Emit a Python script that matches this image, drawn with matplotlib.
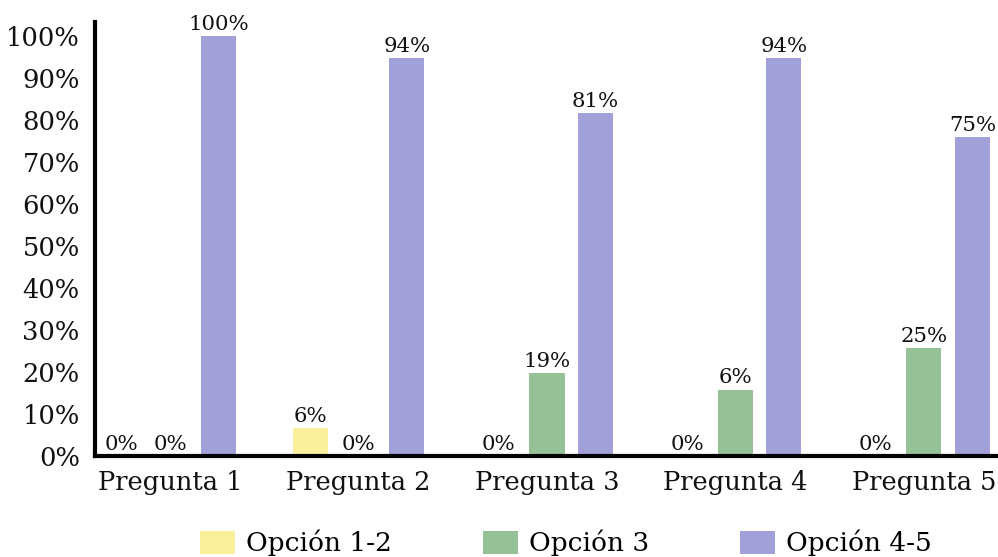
"""grouped bars: answer distribution per question"""

import matplotlib
matplotlib.use('Agg')
import matplotlib.pyplot as plt
import numpy as np

preguntas = ['Pregunta 1', 'Pregunta 2', 'Pregunta 3', 'Pregunta 4', 'Pregunta 5']
series = ['Opción 1-2', 'Opción 3', 'Opción 4-5']
# bar heights
opcion_12 = [0, 6.7, 0, 0, 0]
opcion_3 = [0, 0, 19.7, 15.8, 25.6]
opcion_45 = [100, 94.7, 81.6, 94.7, 75.9]
# labels as printed on the chart (P4 / Opción 3 says 6% although the bar is taller)
etiq_12 = ['0%', '6%', '0%', '0%', '0%']
etiq_3 = ['0%', '0%', '19%', '6%', '25%']
etiq_45 = ['100%', '94%', '81%', '94%', '75%']
yticks = [0, 10, 20, 30, 40, 50, 60, 70, 80, 90, 100]

colors = ['#faf09b', '#96c096', '#a1a0d9']

plt.rcParams['font.family'] = ['DejaVu Serif']

fig = plt.figure(figsize=(9.98, 5.57), dpi=100)
ax = fig.add_axes([0.0952, 0.1815, 0.9048, 0.779])

x = np.arange(len(preguntas))
offset = 0.257
width = 0.186
for i, (vals, labs) in enumerate(zip([opcion_12, opcion_3, opcion_45],
                                     [etiq_12, etiq_3, etiq_45])):
    xs = x + (i - 1) * offset
    ax.bar(xs, vals, width, color=colors[i], label=series[i])
    for xx, v, lab in zip(xs, vals, labs):
        ax.text(xx, v + 0.5, lab, ha='center', va='bottom', fontsize=15.3, color='#111111')

ax.set_xlim(-0.398, 4.393)
ax.set_ylim(0, 103.3)
ax.set_yticks(yticks)
ax.set_yticklabels([f'{t}%' for t in yticks])
ax.set_xticks(x)
ax.set_xticklabels(preguntas)
ax.tick_params(axis='y', length=0, pad=11, labelsize=18.5, labelcolor='#111111')
ax.tick_params(axis='x', length=0, pad=10.5, labelsize=18.5, labelcolor='#111111')
for s in ['top', 'right']:
    ax.spines[s].set_visible(False)
ax.spines['left'].set_linewidth(3)
ax.spines['bottom'].set_linewidth(3)

fig.legend(loc='center', bbox_to_anchor=(0.567, 0.025), ncol=3, frameon=False,
           fontsize=19, handlelength=1.33, handleheight=0.95, handletextpad=0.42,
           columnspacing=3.45)

fig.savefig('out.png', dpi=100)
